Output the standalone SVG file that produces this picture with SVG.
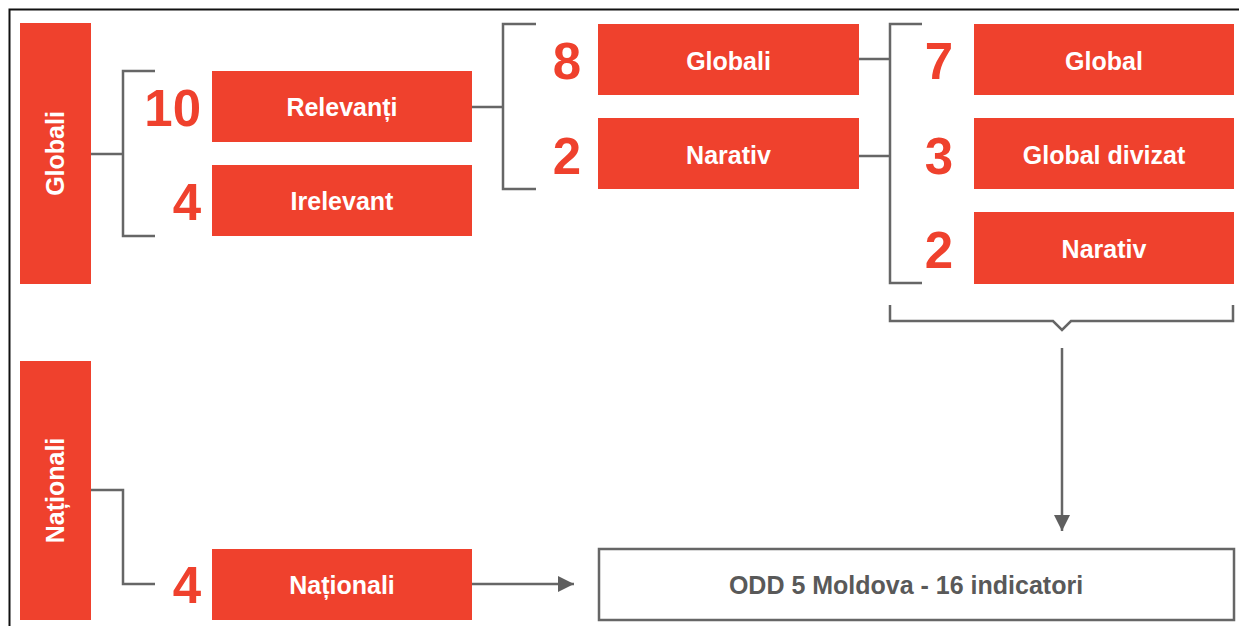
<svg xmlns="http://www.w3.org/2000/svg" width="1239" height="626" viewBox="0 0 1239 626">
<defs>
<style>
.box{fill:#EF412D}
.lbl{font-family:"Liberation Sans",Arial,sans-serif;font-weight:bold;font-size:25px;fill:#fff;text-anchor:middle}
.num{font-family:"Liberation Sans",Arial,sans-serif;font-weight:bold;font-size:51px;fill:#EF412D;text-anchor:end}
.ln{fill:none;stroke:#666;stroke-width:2.5}
</style>
<marker id="ah" markerWidth="16" markerHeight="16" viewBox="0 0 16 16" refX="16" refY="8" orient="auto" markerUnits="userSpaceOnUse">
<path d="M0,0 L16,8 L0,16 Z" fill="#5f5f5f"/>
</marker>
</defs>
<rect x="0" y="0" width="1239" height="626" fill="#fff"/>
<path d="M9.5,626 V9.5 H1239" fill="none" stroke="#111" stroke-width="2"/>

<g id="connectors">
<path class="ln" d="M91,154 H123 M155,71 H123 V236 H155"/>
<path class="ln" d="M472,107 H503 M536,24 H503 V189 H536"/>
<path class="ln" d="M859,59 H890 M859,156 H890 M922,24 H890 V283 H922"/>
<path class="ln" d="M890,305 V321 H1053 L1062,330 L1071,321 H1233 V305"/>
<path class="ln" d="M1062,348 V531" marker-end="url(#ah)"/>
<path class="ln" d="M91,490 H123 V584 H155"/>
<path class="ln" d="M472,584 H574" marker-end="url(#ah)"/>
</g>

<g id="node-globali">
<rect class="box" x="20" y="23" width="71" height="261"/>
<text class="lbl" transform="translate(64,153.5) rotate(-90)">Globali</text>
</g>
<g id="node-nationali">
<rect class="box" x="20" y="361" width="71" height="259"/>
<text class="lbl" transform="translate(64,490.5) rotate(-90)">Naționali</text>
</g>

<g id="node-relevanti">
<text class="num" x="201" y="126">10</text>
<rect class="box" x="212" y="71" width="260" height="71"/>
<text class="lbl" x="342" y="116">Relevanți</text>
</g>
<g id="node-irelevant">
<text class="num" x="201" y="220">4</text>
<rect class="box" x="212" y="165" width="260" height="71"/>
<text class="lbl" x="342" y="210">Irelevant</text>
</g>
<g id="node-globali2">
<text class="num" x="581" y="79">8</text>
<rect class="box" x="598" y="24" width="261" height="71"/>
<text class="lbl" x="728.5" y="70">Globali</text>
</g>
<g id="node-narativ1">
<text class="num" x="581" y="174">2</text>
<rect class="box" x="598" y="118" width="261" height="71"/>
<text class="lbl" x="728.5" y="164">Narativ</text>
</g>
<g id="node-global">
<text class="num" x="953" y="79">7</text>
<rect class="box" x="974" y="24" width="260" height="71"/>
<text class="lbl" x="1104" y="70">Global</text>
</g>
<g id="node-global-divizat">
<text class="num" x="953" y="174">3</text>
<rect class="box" x="974" y="118" width="260" height="71"/>
<text class="lbl" x="1104" y="164">Global divizat</text>
</g>
<g id="node-narativ2">
<text class="num" x="953" y="268">2</text>
<rect class="box" x="974" y="212" width="260" height="72"/>
<text class="lbl" x="1104" y="258">Narativ</text>
</g>
<g id="node-nationali2">
<text class="num" x="201" y="603">4</text>
<rect class="box" x="212" y="549" width="260" height="71"/>
<text class="lbl" x="342" y="594">Naționali</text>
</g>
<g id="node-odd">
<rect x="599" y="549" width="635" height="71" fill="#fff" stroke="#666" stroke-width="2.5"/>
<text x="906" y="594" font-family="Liberation Sans, Arial, sans-serif" font-weight="bold" font-size="25" fill="#595959" text-anchor="middle">ODD 5 Moldova - 16 indicatori</text>
</g>
</svg>
